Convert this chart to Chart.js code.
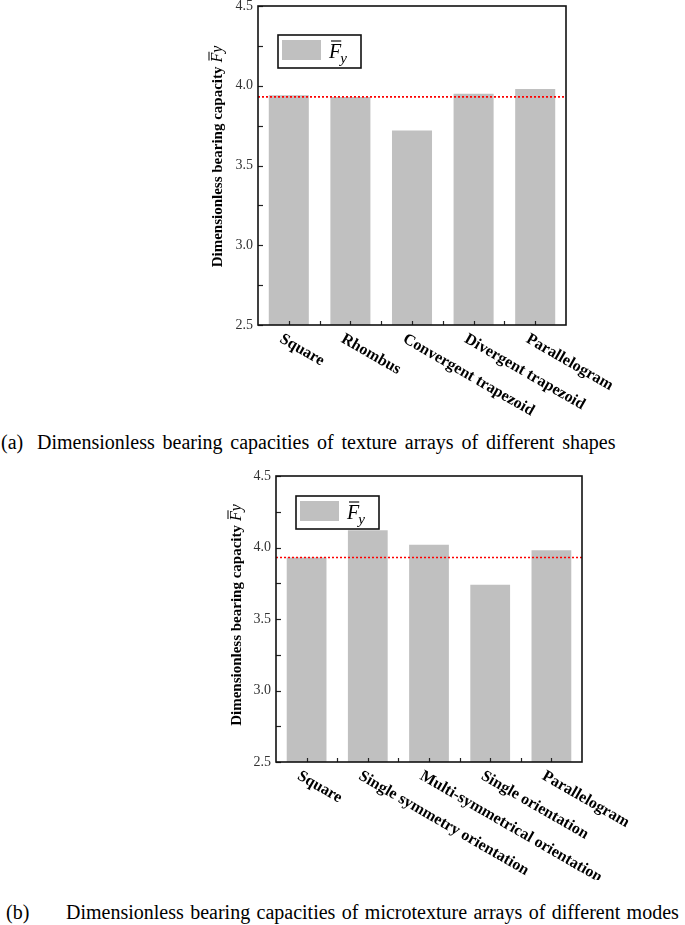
<!DOCTYPE html>
<html>
<head>
<meta charset="utf-8">
<script src="https://cdn.jsdelivr.net/npm/chart.js@4.4.1/dist/chart.umd.min.js"></script>
<style>
  html, body { margin: 0; padding: 0; background: #fff; }
  body { width: 685px; height: 925px; position: relative; overflow: hidden; font-family: "Liberation Serif", "DejaVu Serif", serif; }
  .wrap { position: absolute; left: 0; }
  .cap { position: absolute; font-family: "Liberation Serif", serif; font-size: 20px; color: #000; white-space: pre; line-height: 1; }
</style>
</head>
<body>
<div class="wrap" style="top:0px;"><canvas id="chartA" width="685" height="425"></canvas></div>
<div class="wrap" style="top:460px;"><canvas id="chartB" width="685" height="420"></canvas></div>
<div class="cap" style="left:1px; top:432px;">(a)</div>
<div class="cap" style="left:37px; top:432px; word-spacing:2.8px;">Dimensionless bearing capacities of texture arrays of different shapes</div>
<div class="cap" style="left:6px; top:902px;">(b)</div>
<div class="cap" style="left:66px; top:902px; word-spacing:1.4px;">Dimensionless bearing capacities of microtexture arrays of different modes</div>
<script>
// ---------------- data ----------------
const categoriesA = ['Square', 'Rhombus', 'Convergent trapezoid', 'Divergent trapezoid', 'Parallelogram'];
const valuesA = [3.94, 3.93, 3.72, 3.95, 3.98];
const referenceA = 3.93;

const categoriesB = ['Square', 'Single symmetry orientation', 'Multi-symmetrical orientation', 'Single orientation', 'Parallelogram'];
const valuesB = [3.93, 4.12, 4.02, 3.74, 3.98];
const referenceB = 3.93;

const yTickLabels = ['2.5', '3.0', '3.5', '4.0', '4.5'];
const yMin = 2.5, yMax = 4.5, yMinorStep = 0.25;

const yTitleText = 'Dimensionless bearing capacity';
const legendSymbol = 'F';
const legendSub = 'y';

// ---------------- helpers ----------------
const SERIF = '"Liberation Serif", "DejaVu Serif", serif';
const BAR_COLOR = '#c0c0c0';

const decorPlugin = {
  id: 'decor',
  afterDatasetsDraw(chart, args, opts) {
    const ctx = chart.ctx;
    const area = chart.chartArea;
    const xs = chart.scales.x, ys = chart.scales.y;
    ctx.save();

    // reference dotted line
    const yRef = ys.getPixelForValue(opts.refValue);
    ctx.strokeStyle = '#ff0000';
    ctx.lineWidth = 1.7;
    ctx.setLineDash([2, 2]);
    ctx.beginPath();
    ctx.moveTo(area.left, yRef);
    ctx.lineTo(area.right, yRef);
    ctx.stroke();
    ctx.setLineDash([]);

    // inward ticks: y
    ctx.strokeStyle = '#222';
    ctx.lineWidth = 1.2;
    ys.ticks.forEach(t => {
      const py = Math.round(ys.getPixelForValue(t.value)) + 0.5;
      ctx.beginPath();
      ctx.moveTo(area.left, py);
      ctx.lineTo(area.left + 5, py);
      ctx.stroke();
    });
    // inward ticks: x (centres and boundaries)
    const n = chart.data.labels.length;
    for (let i = 0; i < n; i++) {
      const cx = xs.getPixelForTick(i);
      ctx.beginPath();
      ctx.moveTo(Math.round(cx) + 0.5, area.bottom);
      ctx.lineTo(Math.round(cx) + 0.5, area.bottom - 4);
      ctx.stroke();
      if (i < n - 1) {
        const bx = (xs.getPixelForTick(i) + xs.getPixelForTick(i + 1)) / 2;
        ctx.beginPath();
        ctx.moveTo(Math.round(bx) + 0.5, area.bottom);
        ctx.lineTo(Math.round(bx) + 0.5, area.bottom - 4);
        ctx.stroke();
      }
    }

    // frame
    ctx.strokeStyle = '#111';
    ctx.lineWidth = 1.6;
    ctx.strokeRect(area.left, area.top, area.right - area.left, area.bottom - area.top);

    // rotated x labels (clockwise, start at tick)
    ctx.fillStyle = '#000';
    ctx.font = 'bold 16px ' + SERIF;
    ctx.textAlign = 'left';
    ctx.textBaseline = 'top';
    chart.data.labels.forEach((lab, i) => {
      const cx = xs.getPixelForTick(i);
      ctx.save();
      ctx.translate(cx - 4, area.bottom + 6);
      ctx.rotate(30 * Math.PI / 180);
      ctx.fillText(lab, 0, 0);
      ctx.restore();
    });

    // y axis title
    ctx.save();
    const tcx = area.left - opts.titleDx;
    const tcy = (area.top + area.bottom) / 2 + opts.titleDy;
    ctx.translate(tcx, tcy);
    ctx.rotate(-Math.PI / 2);
    ctx.textBaseline = 'alphabetic';
    ctx.textAlign = 'left';
    ctx.font = 'bold 15px ' + SERIF;
    const w1 = ctx.measureText(yTitleText).width;
    ctx.font = 'italic 16px ' + SERIF;
    const wF = ctx.measureText(legendSymbol).width;
    const wy = ctx.measureText(legendSub).width;
    const gap = 4;
    const total = w1 + gap + wF + wy;
    let x0 = -total / 2;
    const base = 5;
    ctx.font = 'bold 15px ' + SERIF;
    ctx.fillText(yTitleText, x0, base);
    x0 += w1 + gap;
    ctx.font = 'italic 16px ' + SERIF;
    ctx.fillText(legendSymbol, x0, base);
    ctx.lineWidth = 1;
    ctx.strokeStyle = '#000';
    ctx.beginPath();
    ctx.moveTo(x0 + 2, base - 13);
    ctx.lineTo(x0 + wF + 1, base - 13);
    ctx.stroke();
    ctx.fillText(legendSub, x0 + wF, base);
    ctx.restore();

    // legend box
    const lx = area.left + opts.legendDx, ly = area.top + opts.legendDy;
    const lw = 83, lh = 33;
    ctx.fillStyle = '#fff';
    ctx.fillRect(lx, ly, lw, lh);
    ctx.strokeStyle = '#111';
    ctx.lineWidth = 1.6;
    ctx.strokeRect(lx, ly, lw, lh);
    ctx.fillStyle = BAR_COLOR;
    ctx.fillRect(lx + 4, ly + 5, 39, 20);
    ctx.fillStyle = '#000';
    ctx.font = 'italic 20px ' + SERIF;
    ctx.textBaseline = 'alphabetic';
    ctx.textAlign = 'left';
    ctx.fillText(legendSymbol, lx + 51, ly + 23);
    const fw = ctx.measureText(legendSymbol).width;
    ctx.lineWidth = 1.2;
    ctx.beginPath();
    ctx.moveTo(lx + 53, ly + 6);
    ctx.lineTo(lx + 51 + fw, ly + 6);
    ctx.stroke();
    ctx.font = 'italic 15px ' + SERIF;
    ctx.fillText(legendSub, lx + 51 + fw - 1, ly + 28);

    ctx.restore();
  }
};

function makeChart(id, labels, values, refValue, geom) {
  return new Chart(document.getElementById(id), {
    type: 'bar',
    data: {
      labels: labels,
      datasets: [{
        data: values,
        backgroundColor: BAR_COLOR,
        borderWidth: 0,
        categoryPercentage: 1.0,
        barPercentage: 0.65
      }]
    },
    options: {
      responsive: false,
      animation: false,
      devicePixelRatio: 1,
      layout: { padding: { left: 0, right: geom.padRight, top: geom.padTop, bottom: geom.padBottom } },
      plugins: {
        legend: { display: false },
        tooltip: { enabled: false },
        decor: { refValue: refValue, legendDx: geom.legendDx, legendDy: geom.legendDy, titleDx: geom.titleDx, titleDy: geom.titleDy }
      },
      scales: {
        x: {
          grid: { display: false, drawTicks: false },
          border: { display: false },
          ticks: { display: false },
          afterFit(scale) { scale.height = 0; scale.paddingLeft = 0; scale.paddingRight = 0; }
        },
        y: {
          min: yMin, max: yMax,
          grid: { display: false, drawTicks: false },
          border: { display: false },
          ticks: {
            stepSize: yMinorStep,
            padding: 5,
            color: '#333',
            font: { family: SERIF, size: 14 },
            autoSkip: false,
            callback(value) {
              const lab = yTickLabels.find(l => Math.abs(Number(l) - value) < 1e-9);
              return lab === undefined ? '' : lab;
            }
          },
          afterFit(scale) { scale.width = geom.left; scale.paddingTop = 0; scale.paddingBottom = 0; }
        }
      }
    },
    plugins: [decorPlugin]
  });
}

makeChart('chartA', categoriesA, valuesA, referenceA,
  { left: 258, padRight: 119, padTop: 6, padBottom: 100, legendDx: 20, legendDy: 29, titleDx: 41, titleDy: -9 });
makeChart('chartB', categoriesB, valuesB, referenceB,
  { left: 276, padRight: 103, padTop: 16, padBottom: 118, legendDx: 20, legendDy: 20, titleDx: 40, titleDy: -4 });
</script>
</body>
</html>
